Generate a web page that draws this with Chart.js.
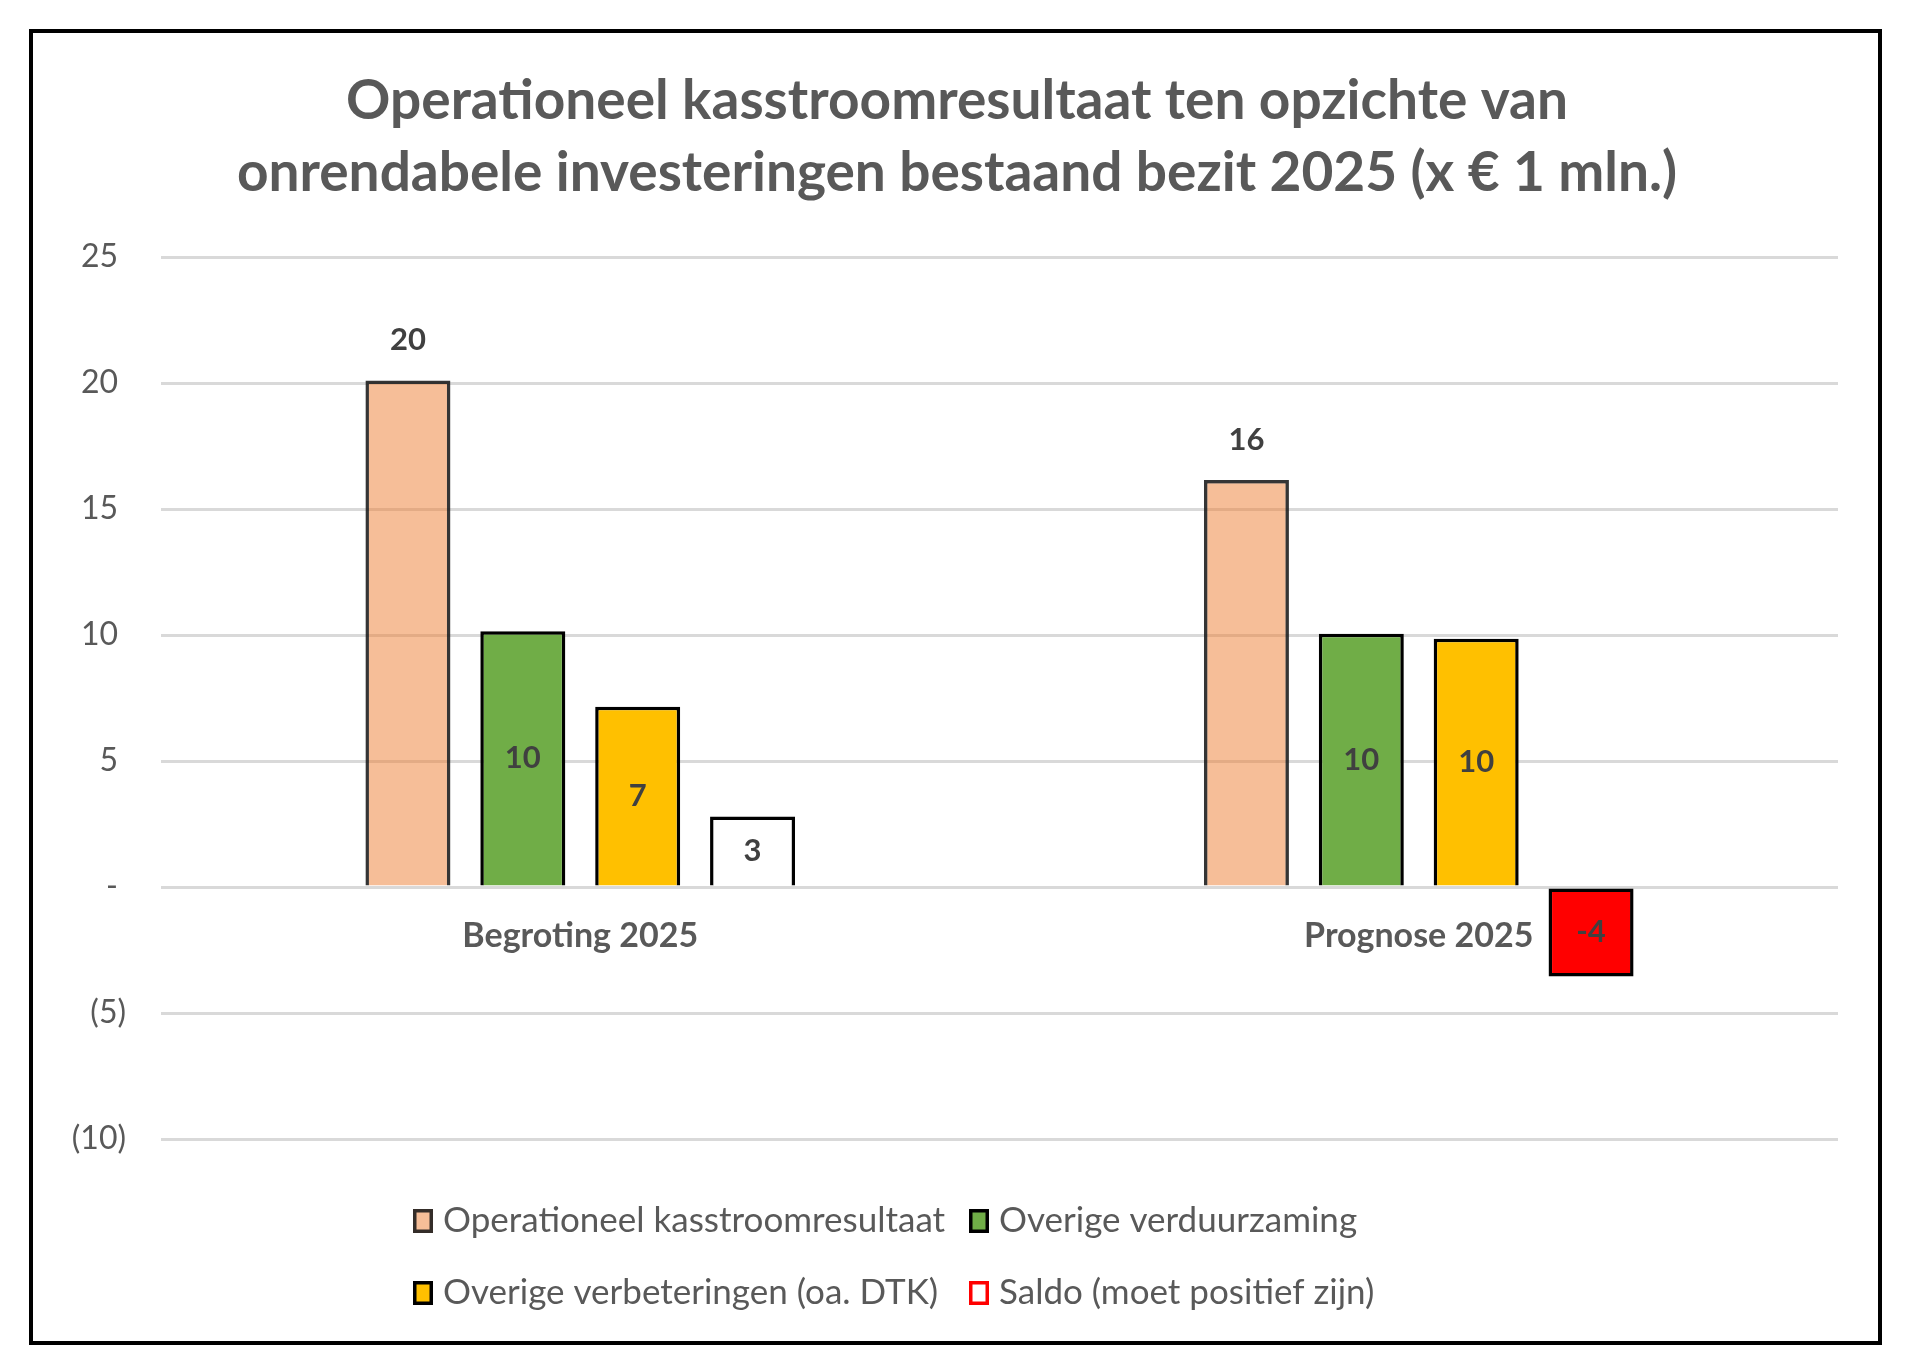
<!DOCTYPE html>
<html>
<head>
<meta charset="utf-8">
<script src="https://cdn.jsdelivr.net/npm/chart.js@4.4.1/dist/chart.umd.min.js"></script>
<style>
  html, body { margin: 0; padding: 0; background: #ffffff; }
  #wrap { position: relative; width: 1920px; height: 1361px; overflow: hidden; }
  #c { position: absolute; left: 0; top: 0; }
  #frame { position: absolute; left: 29px; top: 29px; width: 1853px; height: 1316px;
           border: 4px solid #000; box-sizing: border-box; pointer-events: none; }
</style>
</head>
<body>
<div id="wrap">
  <canvas id="c" width="1920" height="1361"></canvas>
  <div id="frame"></div>
</div>
<script>
// ---- data ----
const titleLines = [
  'Operationeel kasstroomresultaat ten opzichte van',
  'onrendabele investeringen bestaand bezit 2025 (x € 1 mln.)'
];
const categories = ['Begroting 2025', 'Prognose 2025'];
const seriesNames = [
  'Operationeel kasstroomresultaat',
  'Overige verduurzaming',
  'Overige verbeteringen (oa. DTK)',
  'Saldo (moet positief zijn)'
];
const operationeel   = [20.1, 16.15];
const verduurzaming  = [10.15, 10.05];
const verbeteringen  = [7.15, 9.85];
const saldo          = [2.8, -3.55];
const yTickValues = [-10, -5, 0, 5, 10, 15, 20, 25];
const yTickLabels = ['(10)', '(5)', '-\u2005', '5\u2005', '10\u2005', '15\u2005', '20\u2005', '25\u2005'];

const FONT = 'Lato, "Open Sans", sans-serif';
const TEXT_GRAY = '#595959';
const LABEL_GRAY = '#404040';

const dataLabelPlugin = {
  id: 'dataLabels',
  afterDatasetsDraw(chart) {
    const ctx = chart.ctx;
    ctx.save();
    ctx.font = 'bold 31px ' + FONT;
    ctx.fillStyle = LABEL_GRAY;
    ctx.textAlign = 'center';
    ctx.textBaseline = 'middle';
    chart.data.datasets.forEach((ds, i) => {
      const meta = chart.getDatasetMeta(i);
      meta.data.forEach((bar, j) => {
        const v = ds.data[j];
        const txt = String(Math.round(v));
        const y = ds.labelOutside ? bar.y - 40 : (bar.y + bar.base) / 2;
        ctx.fillText(txt, bar.x, y);
      });
    });
    ctx.restore();
  }
};

const legendPlugin = {
  id: 'gridLegend',
  afterDraw(chart) {
    const ctx = chart.ctx;
    const cols = [413, 969];
    const rows = [1221, 1293];
    ctx.save();
    chart.data.datasets.forEach((ds, i) => {
      const x = cols[i % 2];
      const y = rows[Math.floor(i / 2)];
      ctx.fillStyle = '#ffffff';
      ctx.fillRect(x, y - 12, 20, 24);
      ctx.fillStyle = ds.legendFill;
      ctx.fillRect(x, y - 12, 20, 24);
      ctx.lineWidth = 3.5;
      ctx.strokeStyle = ds.legendStroke;
      ctx.strokeRect(x + 1.75, y - 10.25, 16.5, 20.5);
      ctx.fillStyle = TEXT_GRAY;
      ctx.font = '35px ' + FONT;
      ctx.textAlign = 'left';
      ctx.textBaseline = 'middle';
      ctx.fillText(ds.label, x + 30, y);
    });
    ctx.restore();
  }
};

function build() {
  new Chart(document.getElementById('c'), {
    type: 'bar',
    data: {
      labels: categories,
      datasets: [
        { label: seriesNames[0], data: operationeel,
          backgroundColor: 'rgba(237,125,49,0.5)', borderColor: 'rgba(25,25,25,0.88)',
          borderWidth: 3.5, labelOutside: true,
          legendFill: 'rgba(237,125,49,0.5)', legendStroke: 'rgba(25,25,25,0.88)' },
        { label: seriesNames[1], data: verduurzaming,
          backgroundColor: '#70AD47', borderColor: '#000000', borderWidth: 3.5,
          legendFill: '#70AD47', legendStroke: '#000000' },
        { label: seriesNames[2], data: verbeteringen,
          backgroundColor: '#FFC000', borderColor: '#000000', borderWidth: 3.5,
          legendFill: '#FFC000', legendStroke: '#000000' },
        { label: seriesNames[3], data: saldo,
          backgroundColor: (c) => (c.raw < 0 ? '#FF0000' : '#FFFFFF'),
          borderColor: '#000000', borderWidth: 3.5,
          borderSkipped: (c) => (c.raw < 0 ? false : 'start'),
          legendFill: '#FFFFFF', legendStroke: '#FF0000' }
      ]
    },
    options: {
      responsive: false,
      animation: false,
      devicePixelRatio: 1,
      layout: { padding: { top: 0, left: 0, right: 6, bottom: 222 } },
      datasets: { bar: { categoryPercentage: 0.548, barPercentage: 0.74 } },
      plugins: {
        legend: { display: false },
        tooltip: { enabled: false },
        title: {
          display: true,
          text: titleLines,
          color: TEXT_GRAY,
          font: { family: FONT, size: 55, weight: 'bold', lineHeight: 72 / 55 },
          padding: { top: 65, bottom: 48 }
        }
      },
      scales: {
        x: {
          type: 'category',
          position: { y: 0 },
          grid: { display: false, drawTicks: false },
          border: { display: false },
          ticks: { color: TEXT_GRAY, font: { family: FONT, size: 34, weight: 'bold' }, padding: 29 }
        },
        y: {
          min: -10, max: 25,
          afterFit(scale) { scale.width = 161; },
          afterBuildTicks(scale) { scale.ticks = yTickValues.map(v => ({ value: v })); },
          grid: { color: '#D9D9D9', lineWidth: 3, drawTicks: false },
          border: { display: false },
          ticks: {
            color: TEXT_GRAY,
            font: { family: FONT, size: 32 },
            padding: 35,
            callback: (v) => {
              const k = yTickValues.indexOf(v);
              return k >= 0 ? yTickLabels[k] : '';
            }
          }
        },
        yRight: {
          type: 'linear',
          position: 'right',
          afterFit(scale) { scale.width = 76; },
          grid: { display: false, drawTicks: false },
          border: { display: false },
          ticks: { display: false }
        }
      }
    },
    plugins: [dataLabelPlugin, legendPlugin]
  });
}

if (document.fonts && document.fonts.load) {
  Promise.all([
    document.fonts.load('32px Lato'),
    document.fonts.load('bold 32px Lato')
  ]).then(build, build);
} else {
  build();
}
</script>
</body>
</html>
